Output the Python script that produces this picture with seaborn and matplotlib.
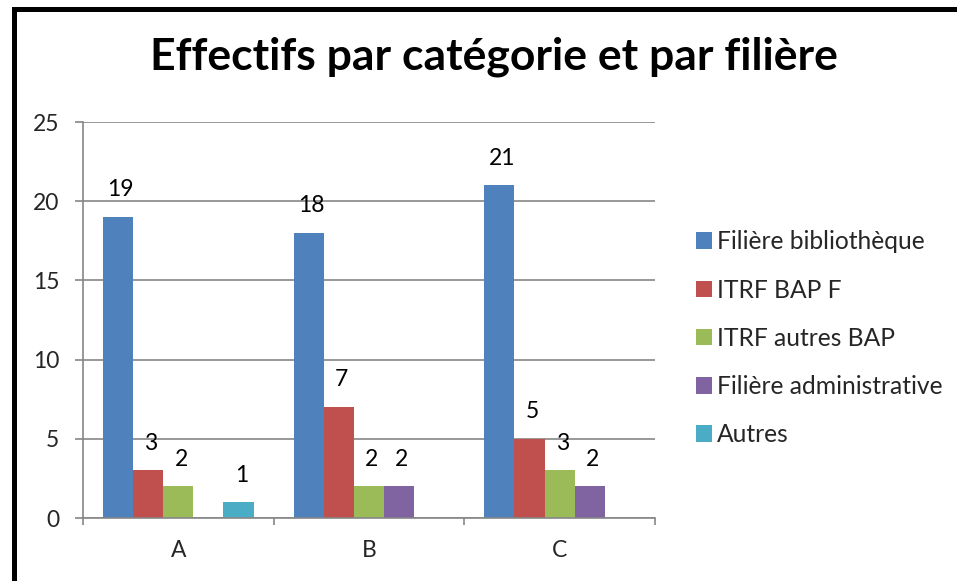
import matplotlib
matplotlib.use("Agg")
import matplotlib.pyplot as plt
import seaborn as sns
import pandas as pd
from matplotlib.patches import Rectangle, Patch

# ---- data ----
categories = ["A", "B", "C"]
series = ["Filière bibliothèque", "ITRF BAP F", "ITRF autres BAP",
          "Filière administrative", "Autres"]
bibliotheque = [19, 18, 21]
itrf_bap_f = [3, 7, 5]
itrf_autres_bap = [2, 2, 3]
administrative = [None, 2, 2]
autres = [1, None, None]
colors = ["#4F81BD", "#C0504D", "#9BBB59", "#8064A2", "#4BACC6"]
title = "Effectifs par catégorie et par filière"
yticks = [0, 5, 10, 15, 20, 25]

rows = []
for s, vals in zip(series, [bibliotheque, itrf_bap_f, itrf_autres_bap, administrative, autres]):
    for c, v in zip(categories, vals):
        if v is not None:
            rows.append({"cat": c, "serie": s, "val": v})
df = pd.DataFrame(rows)

sns.set_theme(style="white")
plt.rcParams['font.family'] = ['Lato', 'DejaVu Sans']

fig = plt.figure(figsize=(9.57, 5.81), dpi=100)
ax = fig.add_axes([0.0867, 0.1084, 0.5977, 0.6816])

sns.barplot(data=df, x="cat", y="val", hue="serie", order=categories,
            hue_order=series, palette=colors, width=0.79, gap=0,
            saturation=1, ax=ax, legend=False, errorbar=None,
            edgecolor="none", linewidth=0)

for cont in ax.containers:
    texts = ax.bar_label(cont, fmt="%g", padding=12, fontsize=16.5, color="black")
    for t in texts:
        x0, y0 = t.xyann
        t.xyann = (x0 + 2, y0)

grid_col = "#868686"
ax.set_ylim(0, 25)
ax.set_xlim(-0.5, 2.5)
ax.set_yticks(yticks)
ax.set_yticklabels([str(t) for t in yticks])
ax.yaxis.grid(True, color=grid_col, linewidth=1.2)
ax.xaxis.grid(False)
ax.set_axisbelow(True)
for side in ["top", "right"]:
    ax.spines[side].set_visible(False)
for side in ["left", "bottom"]:
    ax.spines[side].set_color(grid_col)
    ax.spines[side].set_linewidth(1.2)
ax.tick_params(axis="y", which="major", length=6, width=1.2, color=grid_col,
               direction="out", labelsize=16.5, pad=11, left=True)
ax.tick_params(axis="x", which="major", length=0, labelsize=16.5, pad=16, bottom=True)
ax.set_xticks([-0.5, 0.5, 1.5, 2.5], minor=True)
ax.tick_params(axis="x", which="minor", length=5, width=1.2, color=grid_col,
               direction="out", bottom=True)
ax.set_xlabel("")
ax.set_ylabel("")

handles = [Patch(facecolor=c, edgecolor="none") for c in colors]
ax.legend(handles, series, loc="center left", bbox_to_anchor=(0.727, 0.418),
          bbox_transform=fig.transFigure, frameon=False, fontsize=17.7,
          handlelength=0.68, handleheight=0.68, handletextpad=0.2,
          labelspacing=1.02, borderaxespad=0, borderpad=0)

fig.text(0.516, 0.903, title, ha="center", va="center", fontsize=32,
         fontweight="bold", color="black")

fig.patches.append(Rectangle((14 / 957, -0.1), 1.2, 1 - 9 / 581 + 0.1,
                             transform=fig.transFigure, fill=False,
                             edgecolor="black", linewidth=3.6, zorder=10))

fig.savefig("out.png", dpi=100)
